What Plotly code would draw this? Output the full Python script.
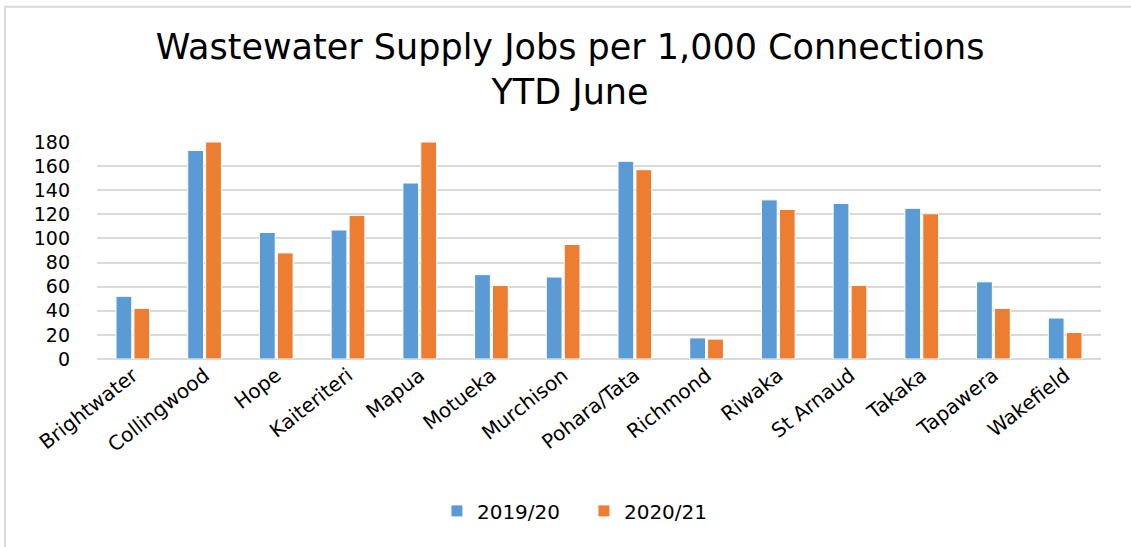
import plotly.graph_objects as go

towns = ["Brightwater", "Collingwood", "Hope", "Kaiteriteri", "Mapua", "Motueka",
         "Murchison", "Pohara/Tata", "Richmond", "Riwaka", "St Arnaud", "Takaka",
         "Tapawera", "Wakefield"]
jobs_2019 = [52, 173, 105, 107, 146, 70, 68, 164, 17.5, 132, 129, 125, 64, 34]
jobs_2020 = [42, 180, 88, 119, 180, 61, 95, 157, 16.5, 124, 61, 120.5, 42, 22]
y_ticks = [0, 20, 40, 60, 80, 100, 120, 140, 160, 180]

FONT = "DejaVu Sans"

fig = go.Figure()
fig.add_trace(go.Bar(x=towns, y=jobs_2019, name="2019/20",
                     marker=dict(color="#5B9BD5", line=dict(color="#FFFFFF", width=1))))
fig.add_trace(go.Bar(x=towns, y=jobs_2020, name="2020/21",
                     marker=dict(color="#ED7D31", line=dict(color="#FFFFFF", width=1))))

fig.update_layout(
    width=1131, height=547,
    margin=dict(l=97, r=30, t=142, b=188),
    paper_bgcolor="white", plot_bgcolor="white",
    font=dict(family=FONT, color="black", size=19),
    title=dict(text="Wastewater Supply Jobs per 1,000 Connections<br>YTD June",
               x=0.504, xanchor="center", y=0.893, yanchor="top",
               font=dict(size=35, family=FONT)),
    barmode="group", bargap=0.5, bargroupgap=0.12,
    legend=dict(orientation="h", x=0.485, xanchor="center", y=-0.70, yanchor="middle",
                font=dict(size=20), entrywidth=102),
    xaxis=dict(tickangle=-38, showgrid=False, showline=False, ticks="",
               tickfont=dict(size=20)),
    yaxis=dict(range=[0, 180], tickvals=y_ticks, showgrid=True, gridcolor="#D9D9D9",
               gridwidth=1.5, zeroline=True, zerolinecolor="#D9D9D9", zerolinewidth=1.5,
               showline=False, ticklabelstandoff=26),
    shapes=[dict(type="rect", xref="paper", yref="paper", x0=-0.0916, x1=1.5,
                 y0=-2, y1=1.6236, line=dict(color="#D9D9D9", width=2))],
)

fig.write_html("out.html", config={"displayModeBar": False},
               post_script="document.body.style.margin='0';")
